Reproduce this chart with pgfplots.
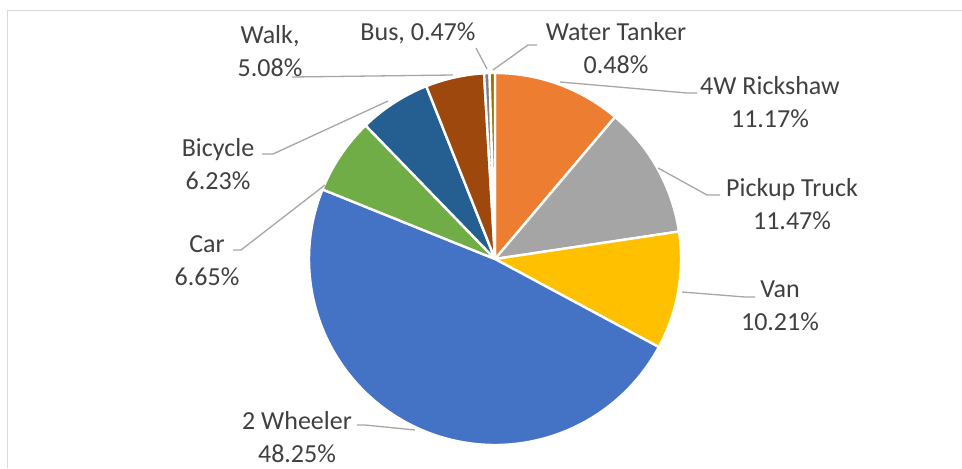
\documentclass[border=0pt]{standalone}
\usepackage{pgfplots}
\pgfplotsset{compat=1.18}
\usepackage{fontspec}
\setmainfont{Carlito}
\definecolor{c1}{HTML}{ED7D31}
\definecolor{c2}{HTML}{A5A5A5}
\definecolor{c3}{HTML}{FFC000}
\definecolor{c4}{HTML}{4472C4}
\definecolor{c5}{HTML}{70AD47}
\definecolor{c6}{HTML}{255E91}
\definecolor{c7}{HTML}{9E480E}
\definecolor{c8}{HTML}{7F7F7F}
\definecolor{c9}{HTML}{997300}
\definecolor{txt}{HTML}{404040}
\definecolor{lead}{HTML}{A6A6A6}
\definecolor{frame}{HTML}{D9D9D9}
\tikzset{lbl/.style={font=\fontsize{13}{16.5}\selectfont, text=txt, align=center, inner sep=0pt}}
\begin{document}
\begin{tikzpicture}
\begin{axis}[
  scale only axis, width=481pt, height=234pt,
  xmin=0, xmax=962, ymin=0, ymax=468,
  hide axis, clip=false,
]
% cumulative percentages (start:end) of each slice, clockwise from 12 o'clock
% 4W Rickshaw 11.17, Pickup Truck 11.47, Van 10.21, 2 Wheeler 48.25, Car 6.65,
% Bicycle 6.23, Walk 5.08, Bus 0.47, Water Tanker 0.48
\pgfplotsset{wedge/.style={draw=white, line width=1.2pt, line join=round, samples=#1}}
\addplot[fill=c1, wedge=30, domain=0:11.17]  ({495+186*sin(3.6*x)},{209+186*cos(3.6*x)}) -- (495,209) -- cycle;
\addplot[fill=c2, wedge=30, domain=11.17:22.64] ({495+186*sin(3.6*x)},{209+186*cos(3.6*x)}) -- (495,209) -- cycle;
\addplot[fill=c3, wedge=30, domain=22.64:32.85] ({495+186*sin(3.6*x)},{209+186*cos(3.6*x)}) -- (495,209) -- cycle;
\addplot[fill=c4, wedge=120, domain=32.85:81.10] ({495+186*sin(3.6*x)},{209+186*cos(3.6*x)}) -- (495,209) -- cycle;
\addplot[fill=c5, wedge=20, domain=81.10:87.75] ({495+186*sin(3.6*x)},{209+186*cos(3.6*x)}) -- (495,209) -- cycle;
\addplot[fill=c6, wedge=20, domain=87.75:93.98] ({495+186*sin(3.6*x)},{209+186*cos(3.6*x)}) -- (495,209) -- cycle;
\addplot[fill=c7, wedge=20, domain=93.98:99.06] ({495+186*sin(3.6*x)},{209+186*cos(3.6*x)}) -- (495,209) -- cycle;
\addplot[fill=c8, wedge=4, domain=99.06:99.53] ({495+186*sin(3.6*x)},{209+186*cos(3.6*x)}) -- (495,209) -- cycle;
\addplot[fill=c9, wedge=4, domain=99.53:100] ({495+186*sin(3.6*x)},{209+186*cos(3.6*x)}) -- (495,209) -- cycle;

% frame
\draw[frame, line width=0.5pt] (962,457.5) -- (7.5,457.5) -- (7.5,0);

% leader lines
\begin{scope}[lead, line width=0.65pt]
\draw (292,391) -- (453,393);
\draw (476,420) -- (487,399);
\draw (537,423) -- (528,423) -- (493,398);
\draw (697,375) -- (687,375) -- (560,386);
\draw (720,273) -- (707,273) -- (658,300);
\draw (755,171) -- (745,171) -- (682,176);
\draw (357,43) -- (365,43) -- (415,38);
\draw (233,218) -- (241,218) -- (325,283);
\draw (262,314) -- (273,314) -- (388,367);
\end{scope}

% labels
\node[lbl] at (270,417) {Walk,\\5.08\%};
\node[lbl] at (418,435) {Bus, 0.47\%};
\node[lbl] at (616,419.5) {Water Tanker\\0.48\%};
\node[lbl] at (770,366) {4W Rickshaw\\11.17\%};
\node[lbl] at (792,264) {Pickup Truck\\11.47\%};
\node[lbl] at (780,162) {Van\\10.21\%};
\node[lbl] at (297,30.5) {2 Wheeler\\48.25\%};
\node[lbl] at (207,207) {Car\\6.65\%};
\node[lbl] at (218,303.5) {Bicycle\\6.23\%};
\end{axis}
\pgfresetboundingbox
\path[use as bounding box] (current axis.south west) rectangle (current axis.north east);
\end{tikzpicture}
\end{document}
